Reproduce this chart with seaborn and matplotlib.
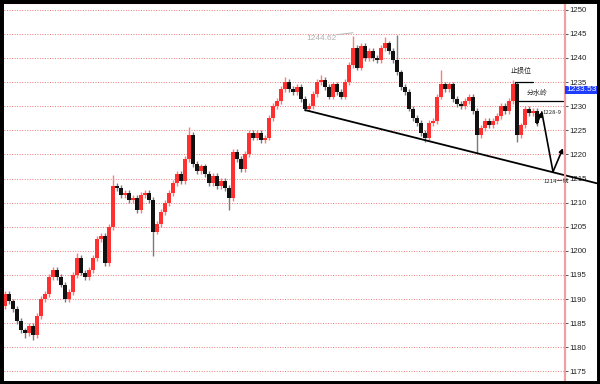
import matplotlib
matplotlib.use("Agg")
import matplotlib.pyplot as plt
from matplotlib.patches import Rectangle
import pandas as pd
import seaborn as sns

# 收盘价（从图上读取，每根K线一个值）
closes = [1191, 1189.5, 1188, 1185.5, 1183.5, 1183, 1184.5, 1182.5, 1186.5, 1190,
          1191, 1194.5, 1196, 1194.5, 1193, 1190, 1191.5, 1195, 1198.5, 1195.5,
          1194.5, 1196, 1198.5, 1202.5, 1203, 1197.5, 1205, 1213.5, 1213, 1211.5,
          1212, 1210.5, 1211, 1208.5, 1211.5, 1212, 1210.5, 1204, 1205.5, 1208,
          1210, 1212, 1214, 1216, 1214.5, 1219, 1224, 1218, 1216.5, 1217.5,
          1216, 1214, 1215.5, 1213.5, 1214.5, 1213, 1211, 1220.5, 1219, 1217,
          1220, 1224.5, 1223.5, 1224.5, 1223, 1223.5, 1227.5, 1230, 1231, 1233.5,
          1235, 1233.5, 1233, 1234, 1231.5, 1229.5, 1230, 1232.5, 1235, 1235.5,
          1234, 1232, 1234.5, 1233, 1232, 1235, 1238.5, 1242, 1238, 1242.5,
          1240, 1241.5, 1240, 1239.5, 1242, 1243, 1241.5, 1239.5, 1237, 1234,
          1233, 1229.5, 1227.5, 1226.5, 1224.5, 1223.5, 1226.5, 1227, 1232, 1234.5,
          1233.5, 1234.5, 1231.5, 1230.5, 1230, 1231, 1232, 1229, 1224, 1225.5,
          1227, 1226, 1227, 1228, 1230, 1229, 1231, 1234.5, 1224, 1226,
          1229.5, 1228.5, 1229, 1226.5]
first_open = 1188.5

# 明显的上下影线
spike_highs = {18: 1199.5, 24: 1203.6, 27: 1215.7, 46: 1225.7, 70: 1236,
               79: 1236.5, 87: 1244.62, 95: 1244.3, 98: 1244.8, 109: 1237.5,
               127: 1235.4}
spike_lows = {5: 1182, 7: 1181.5, 37: 1199, 56: 1208.5, 105: 1222.6,
              118: 1220.3, 128: 1222.5}

yticks = list(range(1175, 1251, 5))
peak_idx = 87
peak_price = 1244.62
last_price = 1233.53

# 趋势线和走势预测
trend_x = [75, 148]
trend_y = [1229.2, 1214.0]
path_x = [133, 134.2, 137, 139.5]
path_y = [1226.4, 1228.8, 1216.4, 1221.3]
stop_level = 1235.1
water_level = 1231.1

sns.set_style("white")
plt.rcParams['font.family'] = ['Liberation Sans', 'Noto Sans CJK SC', 'DejaVu Sans']
cjk = ['Noto Sans CJK SC', 'DejaVu Sans']

df = pd.DataFrame({'close': closes})
df['open'] = [first_open] + closes[:-1]
df['high'] = df[['open', 'close']].max(axis=1) + 0.6
df['low'] = df[['open', 'close']].min(axis=1) - 0.6
for k, v in spike_highs.items():
    df.loc[k, 'high'] = v
for k, v in spike_lows.items():
    df.loc[k, 'low'] = v
df['up'] = df['close'] >= df['open']
df['bottom'] = df[['open', 'close']].min(axis=1)
df['size'] = (df['close'] - df['open']).abs().clip(lower=0.3)

fig = plt.figure(figsize=(6, 3.84), dpi=100)
ax = fig.add_axes([4 / 600, 4 / 384, 561 / 600, 377 / 384])

up = df[df['up']]
dn = df[~df['up']]
ax.vlines(up.index, up['low'], up['high'], color='#ff7a7a', lw=1.0, zorder=2)
ax.vlines(dn.index, dn['low'], dn['high'], color='#7a7a7a', lw=1.0, zorder=2)
ax.bar(up.index, up['size'], bottom=up['bottom'], width=0.78, color='#ff3030', lw=0, zorder=3)
ax.bar(dn.index, dn['size'], bottom=dn['bottom'], width=0.78, color='#111111', lw=0, zorder=3)

ax.set_xlim(-0.25, 140)
ax.set_ylim(1173.22, 1251.39)

# 网格
ax.set_yticks(yticks)
ax.set_xticks([])
ax.yaxis.grid(True, color='#f07878', lw=0.7, ls=(0, (1, 1.6)))
ax.set_axisbelow(True)
ax.yaxis.tick_right()
ax.tick_params(axis='y', right=True, length=2, width=0.6, color='#333333',
               pad=1.2, labelsize=5.6, labelcolor='#222222')
for s in ['left', 'bottom']:
    ax.spines[s].set_visible(False)
ax.spines['right'].set_color('#f0a0a0')
ax.spines['right'].set_linewidth(1.6)
ax.spines['top'].set_color('#f06060')
ax.spines['top'].set_linewidth(0.8)

# 最高价标注
ax.plot([peak_idx - 4, peak_idx], [peak_price + 0.2, peak_price + 0.6], color='#b5b5b5', lw=0.7)
ax.text(peak_idx - 4.2, peak_price - 0.6, f"{peak_price:.2f}", ha='right', va='center',
        fontsize=6, color='#b0b0b0')

# 趋势线
sns.lineplot(x=trend_x, y=trend_y, ax=ax, color='black', linewidth=1.3)
ax.lines[-1].set_clip_on(False)

# 止损位 / 分水岭
ax.plot([127.5, 127.5, 132], [1233.0, stop_level, stop_level], color='black', lw=0.9)
ax.plot([128.25, 140], [water_level, water_level], color='black', lw=0.9, clip_on=False)
ax.text(129, 1237.3, "止损位", ha='center', va='center', fontsize=5, family=cjk)
ax.text(133, 1232.8, "分水岭", ha='center', va='center', fontsize=5, family=cjk)

# 预测路径
arrow = dict(arrowstyle='-|>', color='black', lw=1.2, mutation_scale=6,
             shrinkA=0, shrinkB=0)
ax.annotate('', xy=(path_x[1], path_y[1]), xytext=(path_x[0], path_y[0]), arrowprops=arrow)
ax.plot(path_x[1:3], path_y[1:3], color='black', lw=1.2)
ax.annotate('', xy=(path_x[3], path_y[3]), xytext=(path_x[2], path_y[2]), arrowprops=arrow)
ax.text(136.8, 1228.6, "1228-9", ha='center', va='center', fontsize=4.3, family=cjk)
ax.text(137.8, 1214.3, "1214一线", ha='center', va='center', fontsize=4.3, family=cjk)

# 当前价
ax.text(140.25, last_price - 0.15, f"{last_price:.2f}", ha='left', va='center', fontsize=6,
        color='white', bbox=dict(boxstyle='square,pad=0.08', fc='#1e3cff', ec='none'))

# 外框
fig.add_artist(Rectangle((0, 0), 1, 1, transform=fig.transFigure, fill=False,
                         ec='black', lw=5, zorder=20))

fig.savefig("out.png", dpi=100)
